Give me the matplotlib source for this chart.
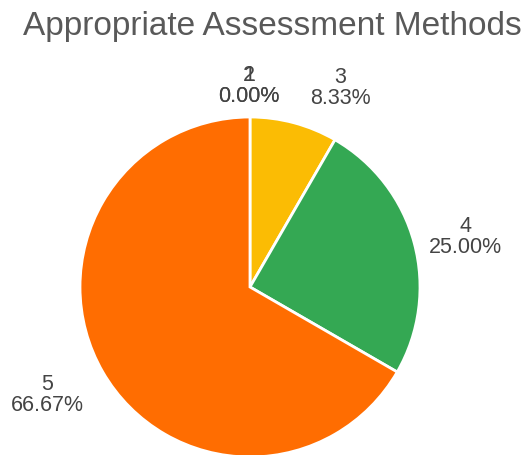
import matplotlib
matplotlib.use("Agg")
import matplotlib.pyplot as plt

categories = ["1", "2", "3", "4", "5"]
counts = [0, 0, 1, 3, 8]
colors = ["#4285F4", "#EA4335", "#FBBC04", "#34A853", "#FF6D01"]

plt.rcParams['font.family'] = ['Liberation Sans', 'DejaVu Sans']

W, H = 531, 456
fig = plt.figure(figsize=(W / 100, H / 100), dpi=100)
cx, cy, r = 250, 168, 170
ax = fig.add_axes([(cx - r) / W, (cy - r) / H, 2 * r / W, 2 * r / H])

total = sum(counts)
labels = [f"{c}\n{v / total * 100:.2f}%" for c, v in zip(categories, counts)]
wedges, texts = ax.pie(counts, labels=labels, colors=colors, startangle=90,
                       counterclock=False, radius=1,
                       wedgeprops=dict(edgecolor="white", linewidth=2),
                       textprops=dict(fontsize=15.5, color="#444444", ha="center", va="center",
                                      linespacing=1.0))
positions = [(-0.005, 1.19), (-0.005, 1.19), (0.53, 1.176), (1.27, 0.30), (-1.194, -0.63)]
for t, p in zip(texts, positions):
    t.set_position(p)
    t.set_ha("center")
    t.set_va("center")
    t.set_clip_on(False)
for w in wedges:
    w.set_clip_on(False)
ax.set_xlim(-1, 1)
ax.set_ylim(-1, 1)
ax.set_aspect("equal")
ax.axis("off")

fig.text(272 / W, 1 - 26 / H, "Appropriate Assessment Methods", fontsize=24, color="#595959",
         ha="center", va="center")

fig.savefig("out.png", dpi=100)
